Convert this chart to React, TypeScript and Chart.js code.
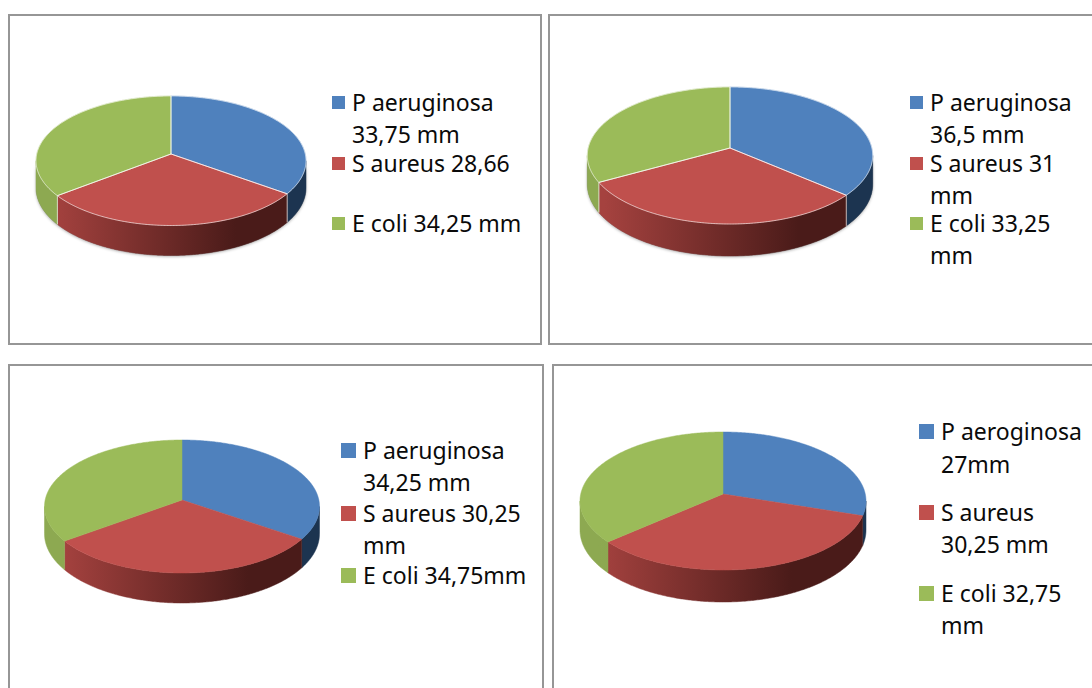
import React, { useEffect, useRef } from "react";
import { Chart, registerables } from "chart.js";

Chart.register(...registerables);

// Inhibition zone diameters per organism
const organisms = ["P aeruginosa", "S aureus", "E coli"];
const organismsAlt = ["P aeroginosa", "S aureus", "E coli"];
const valuesA = [33.75, 28.66, 34.25];
const valuesB = [36.5, 31, 33.25];
const valuesC = [34.25, 30.25, 34.75];
const valuesD = [27, 30.25, 32.75];

const legendA = [["P aeruginosa", "33,75 mm"], ["S aureus 28,66"], ["E coli 34,25 mm"]];
const legendB = [["P aeruginosa", "36,5 mm"], ["S aureus 31", "mm"], ["E coli 33,25", "mm"]];
const legendC = [["P aeruginosa", "34,25 mm"], ["S aureus 30,25", "mm"], ["E coli 34,75mm"]];
const legendD = [["P aeroginosa", "27mm"], ["S aureus", "30,25 mm"], ["E coli 32,75", "mm"]];

const topColors = ["#4F81BD", "#C0504D", "#9BBB59"];
const wallColors = [
  ["#24405F", "#1C3450"],
  ["#A5423F", "#4A1B19"],
  ["#8DA951", "#7F9A47"],
];

type Panel = {
  frame: { left: number; top: number; width: number; height: number };
  cx: number;
  cy: number;
  a: number;
  backDepth: number;
  frontDepth: number;
  wall: number;
  outlined: boolean;
  labels: string[];
  values: number[];
  legend: string[][];
  swatchX: number;
  swatchSize: number;
  textX: number;
  lineYs: number[][];
};

const panels: Panel[] = [
  {
    frame: { left: 8, top: 14, width: 534, height: 331 },
    cx: 171, cy: 153.5, a: 135, backDepth: 58, frontDepth: 71.5, wall: 30, outlined: true,
    labels: organisms, values: valuesA, legend: legendA,
    swatchX: 332, swatchSize: 13, textX: 352,
    lineYs: [[103, 135], [164], [224]],
  },
  {
    frame: { left: 548, top: 14, width: 560, height: 331 },
    cx: 729.5, cy: 148, a: 142.7, backDepth: 61, frontDepth: 76, wall: 32, outlined: true,
    labels: organisms, values: valuesB, legend: legendB,
    swatchX: 909.5, swatchSize: 13, textX: 930,
    lineYs: [[103, 135], [164, 196], [224, 256]],
  },
  {
    frame: { left: 8, top: 364, width: 536, height: 340 },
    cx: 182, cy: 500, a: 137.5, backDepth: 60, frontDepth: 73, wall: 30, outlined: false,
    labels: organisms, values: valuesC, legend: legendC,
    swatchX: 341, swatchSize: 15, textX: 363,
    lineYs: [[451, 483], [514, 546], [576]],
  },
  {
    frame: { left: 552, top: 364, width: 560, height: 340 },
    cx: 722.5, cy: 493.7, a: 143, backDepth: 62, frontDepth: 76, wall: 32, outlined: false,
    labels: organismsAlt, values: valuesD, legend: legendD,
    swatchX: 919, swatchSize: 15, textX: 941,
    lineYs: [[432, 465], [513, 545], [594, 626]],
  },
];

// Projects a point of the flat pie onto the tilted disc with a true perspective divide.
function makeProjector(x: number, y: number, a: number, back: number, front: number, wall: number) {
  const k = (front - back) / (front + back);
  const B = back * (1 + k);
  const A = a * Math.sqrt(1 - k * k);
  const frontScale = 1 / (1 - k);
  return {
    k,
    top(theta: number) {
      const u = Math.sin(theta);
      const v = -Math.cos(theta);
      const w = 1 / (1 - k * v);
      return { x: x + A * u * w, y: y + B * v * w, drop: (wall * w) / frontScale };
    },
  };
}

function traceRim(ctx: CanvasRenderingContext2D, p: any, from: number, to: number) {
  const n = Math.max(2, Math.ceil(Math.abs(to - from) / 0.01));
  for (let i = 0; i <= n; i++) {
    const q = p.top(from + ((to - from) * i) / n);
    ctx.lineTo(q.x, q.y);
  }
}

const perspectivePie = {
  id: "perspectivePie",
  beforeDatasetDraw(chart: any, args: any, opts: any) {
    const ctx: CanvasRenderingContext2D = chart.ctx;
    const meta = chart.getDatasetMeta(args.index);
    const first = meta.data[0];
    const { a, backDepth, frontDepth, wall, outlined } = opts;
    const p = makeProjector(first.x, first.y, a, backDepth, frontDepth, wall);
    const rightEdge = Math.PI - Math.acos(p.k);
    const leftEdge = Math.PI + Math.acos(p.k);

    const arcs = meta.data.map((el: any) => {
      const props = el.getProps(["startAngle", "endAngle"], true);
      return { from: props.startAngle + Math.PI / 2, to: props.endAngle + Math.PI / 2 };
    });

    const traceWall = (from: number, to: number) => {
      ctx.beginPath();
      const s = p.top(from);
      ctx.moveTo(s.x, s.y);
      traceRim(ctx, p, from, to);
      const n = Math.max(2, Math.ceil((to - from) / 0.01));
      for (let i = n; i >= 0; i--) {
        const q = p.top(from + ((to - from) * i) / n);
        ctx.lineTo(q.x, q.y + q.drop);
      }
      ctx.closePath();
    };

    // soft contact shadow under the outlined discs
    if (outlined) {
      ctx.save();
      ctx.shadowColor = "rgba(0,0,0,0.35)";
      ctx.shadowBlur = 3;
      ctx.shadowOffsetY = 1;
      ctx.fillStyle = "#777";
      traceWall(rightEdge, leftEdge);
      ctx.fill();
      ctx.restore();
    }

    // outer wall, only the part facing the viewer
    arcs.forEach((arc: any, i: number) => {
      const from = Math.max(arc.from, rightEdge);
      const to = Math.min(arc.to, leftEdge);
      if (to <= from) return;
      const grad = ctx.createLinearGradient(first.x - a, 0, first.x + a, 0);
      const [light, dark] = wallColors[i];
      grad.addColorStop(0.06, light);
      grad.addColorStop(0.74, dark);
      grad.addColorStop(1, dark);
      traceWall(from, to);
      ctx.fillStyle = grad;
      ctx.fill();
      ctx.strokeStyle = grad;
      ctx.lineWidth = 0.5;
      ctx.stroke();
      if (outlined) {
        ctx.strokeStyle = "rgba(255,255,255,0.55)";
        ctx.lineWidth = 1;
        [from, to].forEach((t) => {
          if (t === rightEdge || t === leftEdge) return;
          const q = p.top(t);
          ctx.beginPath();
          ctx.moveTo(q.x, q.y);
          ctx.lineTo(q.x, q.y + q.drop);
          ctx.stroke();
        });
      }
    });

    // top face
    arcs.forEach((arc: any, i: number) => {
      ctx.beginPath();
      ctx.moveTo(first.x, first.y);
      traceRim(ctx, p, arc.from, arc.to);
      ctx.closePath();
      const fill = meta.data[i].options.backgroundColor;
      ctx.fillStyle = fill;
      ctx.fill();
      ctx.strokeStyle = fill;
      ctx.lineWidth = 0.5;
      ctx.stroke();
    });
    if (outlined) {
      arcs.forEach((arc: any) => {
        ctx.beginPath();
        ctx.moveTo(first.x, first.y);
        traceRim(ctx, p, arc.from, arc.to);
        ctx.closePath();
        ctx.strokeStyle = "rgba(255,255,255,0.6)";
        ctx.lineWidth = 1;
        ctx.stroke();
      });
    }
    return false;
  },
};

function PiePanel({ panel }: { panel: Panel }) {
  const ref = useRef<HTMLCanvasElement>(null);
  const half = Math.ceil(panel.a + 20);

  useEffect(() => {
    if (!ref.current) return;
    const chart = new Chart(ref.current, {
      type: "pie",
      data: {
        labels: panel.labels,
        datasets: [{ data: panel.values, backgroundColor: topColors, borderWidth: 0 }],
      },
      options: {
        animation: false,
        responsive: false,
        radius: panel.a,
        layout: { padding: 0 },
        events: [],
        plugins: {
          legend: { display: false },
          tooltip: { enabled: false },
          perspectivePie: {
            a: panel.a,
            backDepth: panel.backDepth,
            frontDepth: panel.frontDepth,
            wall: panel.wall,
            outlined: panel.outlined,
          },
        },
      } as any,
      plugins: [perspectivePie as any],
    });
    return () => chart.destroy();
  }, [panel]);

  return (
    <>
      <div
        style={{
          position: "absolute",
          boxSizing: "border-box",
          ...panel.frame,
          border: "2px solid #969696",
          background: "#fff",
        }}
      />
      <canvas
        ref={ref}
        width={half * 2}
        height={half * 2}
        style={{
          position: "absolute",
          left: panel.cx - half,
          top: panel.cy - half,
          width: half * 2,
          height: half * 2,
        }}
      />
      {panel.legend.map((lines, i) => (
        <React.Fragment key={i}>
          <div
            style={{
              position: "absolute",
              left: panel.swatchX,
              top: panel.lineYs[i][0] - panel.swatchSize / 2 - 0.5,
              width: panel.swatchSize,
              height: panel.swatchSize,
              background: topColors[i],
            }}
          />
          {lines.map((line, j) => (
            <div
              key={j}
              style={{
                position: "absolute",
                left: panel.textX,
                top: panel.lineYs[i][j] - 17.5,
                height: 32,
                lineHeight: "32px",
                whiteSpace: "nowrap",
                fontFamily: "'Noto Sans', sans-serif",
                fontSize: 23,
                color: "#0a0a0a",
              }}
            >
              {line}
            </div>
          ))}
        </React.Fragment>
      ))}
    </>
  );
}

export default function App() {
  return (
    <div style={{ position: "fixed", left: 0, top: 0, width: 1092, height: 688, overflow: "hidden", background: "#fff" }}>
      {panels.map((panel, i) => (
        <PiePanel key={i} panel={panel} />
      ))}
    </div>
  );
}
